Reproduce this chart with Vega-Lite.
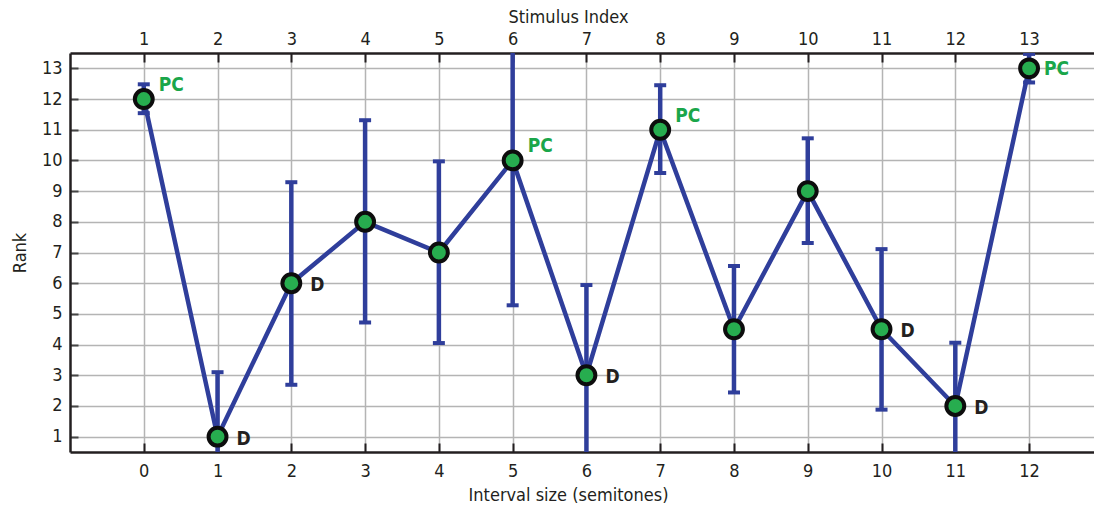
{
  "$schema": "https://vega.github.io/schema/vega-lite/v6.json",
  "width": 1024,
  "height": 399,
  "autosize": {"type": "none"},
  "padding": {"left": 70, "top": 53, "right": 0, "bottom": 60},
  "background": "white",
  "config": {
    "view": {"stroke": null},
    "font": "DejaVu Sans Condensed",
    "axis": {
      "labelFont": "DejaVu Sans Condensed",
      "titleFont": "DejaVu Sans Condensed",
      "labelFontSize": 18,
      "titleFontSize": 18,
      "titleFontWeight": "normal",
      "labelColor": "#231f20",
      "titleColor": "#231f20",
      "domainColor": "#231f20",
      "domainWidth": 2.5,
      "gridColor": "#b4b4b4",
      "gridWidth": 1.5,
      "gridOpacity": 1,
      "labelOverlap": false
    }
  },
  "data": {
    "values": [
      {"interval": 0, "rank": 12, "lo": 11.54, "hi": 12.48, "label": "PC"},
      {"interval": 1, "rank": 1, "lo": -1.1, "hi": 3.1, "label": "D"},
      {"interval": 2, "rank": 6, "lo": 2.69, "hi": 9.29, "label": "D"},
      {"interval": 3, "rank": 8, "lo": 4.72, "hi": 11.31, "label": ""},
      {"interval": 4, "rank": 7, "lo": 4.05, "hi": 9.97, "label": ""},
      {"interval": 5, "rank": 10, "lo": 5.28, "hi": 14.7, "label": "PC"},
      {"interval": 6, "rank": 3, "lo": 0.06, "hi": 5.94, "label": "D"},
      {"interval": 7, "rank": 11, "lo": 9.59, "hi": 12.45, "label": "PC"},
      {"interval": 8, "rank": 4.5, "lo": 2.44, "hi": 6.56, "label": ""},
      {"interval": 9, "rank": 9, "lo": 7.31, "hi": 10.72, "label": ""},
      {"interval": 10, "rank": 4.5, "lo": 1.88, "hi": 7.11, "label": "D"},
      {"interval": 11, "rank": 2, "lo": -0.06, "hi": 4.06, "label": "D"},
      {"interval": 12, "rank": 13, "lo": 12.54, "hi": 13.47, "label": "PC"}
    ]
  },
  "resolve": {"scale": {"x": "shared", "y": "shared"}, "axis": {"x": "independent", "y": "independent"}},
  "layer": [
    {
      "mark": {"type": "line", "color": "#2f3e9b", "strokeWidth": 4.5, "clip": true},
      "encoding": {
        "x": {
          "field": "interval", "type": "quantitative",
          "scale": {"domain": [-1, 12.88], "nice": false, "zero": false},
          "axis": {
            "orient": "bottom", "title": "Interval size (semitones)",
            "values": [0,1,2,3,4,5,6,7,8,9,10,11,12],
            "grid": true, "tickSize": -9, "tickColor": "#231f20", "tickWidth": 2,
            "labelPadding": 19, "titleX": 498, "titlePadding": 6
          }
        },
        "y": {
          "field": "rank", "type": "quantitative",
          "scale": {"domain": [0.5, 13.5], "nice": false, "zero": false},
          "axis": {
            "orient": "left", "title": "Rank",
            "values": [1,2,3,4,5,6,7,8,9,10,11,12,13],
            "grid": true, "tickSize": -8, "tickColor": "#444444", "tickWidth": 2,
            "labelPadding": 16, "titlePadding": 12
          }
        }
      }
    },
    {
      "mark": {"type": "rule", "color": "#2f3e9b", "strokeWidth": 4.5, "clip": true},
      "encoding": {
        "x": {
          "field": "interval", "type": "quantitative",
          "axis": {
            "orient": "top", "title": "Stimulus Index",
            "values": [0,1,2,3,4,5,6,7,8,9,10,11,12],
            "labelExpr": "datum.value + 1",
            "grid": false, "tickSize": -9, "tickColor": "#231f20", "tickWidth": 2,
            "labelPadding": 14, "titleX": 498, "titlePadding": 4
          }
        },
        "y": {"field": "lo", "type": "quantitative", "axis": null},
        "y2": {"field": "hi"}
      }
    },
    {
      "mark": {"type": "tick", "color": "#2f3e9b", "thickness": 4, "size": 12, "clip": true, "orient": "horizontal", "opacity": 1},
      "encoding": {
        "x": {"field": "interval", "type": "quantitative", "axis": null},
        "y": {"field": "lo", "type": "quantitative", "axis": null}
      }
    },
    {
      "mark": {"type": "tick", "color": "#2f3e9b", "thickness": 4, "size": 12, "clip": true, "orient": "horizontal", "opacity": 1},
      "encoding": {
        "x": {"field": "interval", "type": "quantitative", "axis": null},
        "y": {"field": "hi", "type": "quantitative", "axis": null}
      }
    },
    {
      "mark": {"type": "point", "filled": true, "fill": "#27ad4f", "stroke": "#0d0d0d", "strokeWidth": 4, "size": 320, "opacity": 1},
      "encoding": {
        "x": {"field": "interval", "type": "quantitative", "axis": null},
        "y": {"field": "rank", "type": "quantitative", "axis": null}
      }
    },
    {
      "transform": [{"filter": "datum.label == 'D'"}],
      "mark": {"type": "text", "align": "left", "baseline": "middle", "dx": 19, "dy": 2, "fontSize": 19, "fontWeight": "bold", "color": "#231f20"},
      "encoding": {
        "x": {"field": "interval", "type": "quantitative", "axis": null},
        "y": {"field": "rank", "type": "quantitative", "axis": null},
        "text": {"field": "label"}
      }
    },
    {
      "transform": [{"filter": "datum.label == 'PC' && datum.interval < 12"}],
      "mark": {"type": "text", "align": "left", "baseline": "middle", "dx": 15, "dy": -14, "fontSize": 19, "fontWeight": "bold", "color": "#1aa64a"},
      "encoding": {
        "x": {"field": "interval", "type": "quantitative", "axis": null},
        "y": {"field": "rank", "type": "quantitative", "axis": null},
        "text": {"field": "label"}
      }
    },
    {
      "transform": [{"filter": "datum.label == 'PC' && datum.interval == 12"}],
      "mark": {"type": "text", "align": "left", "baseline": "middle", "dx": 15, "dy": 1, "fontSize": 19, "fontWeight": "bold", "color": "#1aa64a"},
      "encoding": {
        "x": {"field": "interval", "type": "quantitative", "axis": null},
        "y": {"field": "rank", "type": "quantitative", "axis": null},
        "text": {"field": "label"}
      }
    }
  ]
}
